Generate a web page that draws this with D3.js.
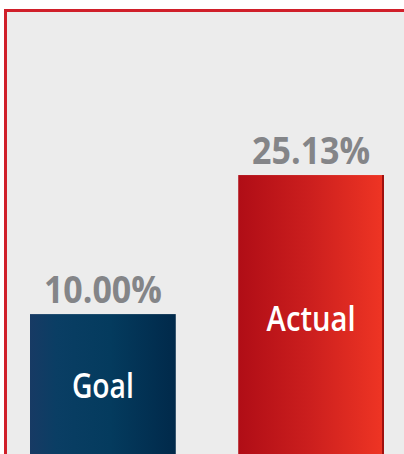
<!DOCTYPE html>
<html>
<head>
<meta charset="utf-8">
<script src="https://cdn.jsdelivr.net/npm/d3@7"></script>
<style>
  html, body { margin: 0; padding: 0; background: #ffffff; }
  svg { display: block; }
</style>
</head>
<body>
<svg id="chart"></svg>
<script>
// Chart data
const categories = ['Goal', 'Actual'];
const values = [10.00, 25.13];
const valueLabels = ['10.00%', '25.13%'];

// Dimensions
const width = 404;
const height = 454;

const svg = d3.select('#chart')
    .attr('width', width)
    .attr('height', height);

// Gradients for the two bars
const defs = svg.append('defs');

const goalGrad = defs.append('linearGradient').attr('id', 'grad-goal');
goalGrad.append('stop').attr('offset', '0%').attr('stop-color', '#173a64');
goalGrad.append('stop').attr('offset', '18%').attr('stop-color', '#0a3e64');
goalGrad.append('stop').attr('offset', '55%').attr('stop-color', '#043b5e');
goalGrad.append('stop').attr('offset', '100%').attr('stop-color', '#01294a');

const actualGrad = defs.append('linearGradient').attr('id', 'grad-actual');
actualGrad.append('stop').attr('offset', '0%').attr('stop-color', '#b00d16');
actualGrad.append('stop').attr('offset', '50%').attr('stop-color', '#cc1f1e');
actualGrad.append('stop').attr('offset', '100%').attr('stop-color', '#ef3524');

const fills = ['url(#grad-goal)', 'url(#grad-actual)'];

// Panel background and red frame (runs off the right and bottom edges)
svg.append('rect')
    .attr('x', 5.5)
    .attr('y', 10.5)
    .attr('width', width + 20)
    .attr('height', height + 20)
    .attr('fill', '#ececec')
    .attr('stroke', '#d01f2a')
    .attr('stroke-width', 3);

// Scales
const xScale = d3.scaleBand()
    .domain(categories)
    .range([30, 384])
    .paddingInner(0.3)
    .paddingOuter(0);

const yScale = d3.scaleLinear()
    .domain([0, 30])
    .range([406, 130.3]);

const g = svg.append('g');

// Bars (extend to the bottom of the picture)
g.selectAll('.bar')
    .data(values)
    .enter()
    .append('rect')
    .attr('class', 'bar')
    .attr('x', (d, i) => xScale(categories[i]))
    .attr('y', d => yScale(d))
    .attr('width', xScale.bandwidth())
    .attr('height', d => height - yScale(d))
    .attr('fill', (d, i) => fills[i]);

// Dark right edge on the Actual bar
g.append('rect')
    .attr('x', xScale('Actual') + xScale.bandwidth() - 2)
    .attr('y', yScale(values[1]))
    .attr('width', 2)
    .attr('height', height - yScale(values[1]))
    .attr('fill', '#a0100f');

// Value labels above bars
g.selectAll('.value-label')
    .data(values)
    .enter()
    .append('text')
    .attr('class', 'value-label')
    .attr('x', (d, i) => xScale(categories[i]) + xScale.bandwidth() / 2)
    .attr('y', d => yScale(d) - 11)
    .attr('text-anchor', 'middle')
    .attr('font-family', '"Open Sans", sans-serif')
    .attr('font-weight', 700)
    .attr('font-size', 37)
    .attr('fill', '#848588')
    .attr('textLength', 118)
    .attr('lengthAdjust', 'spacingAndGlyphs')
    .text((d, i) => valueLabels[i]);

// Category labels inside bars
g.selectAll('.cat-label')
    .data(values)
    .enter()
    .append('text')
    .attr('class', 'cat-label')
    .attr('x', (d, i) => xScale(categories[i]) + xScale.bandwidth() / 2)
    .attr('y', d => yScale(d) + (height - yScale(d)) * 0.52 + 11)
    .attr('text-anchor', 'middle')
    .attr('font-family', '"Open Sans", sans-serif')
    .attr('font-weight', 600)
    .attr('font-size', 35)
    .attr('fill', '#ffffff')
    .attr('textLength', (d, i) => i === 0 ? 62 : 89)
    .attr('lengthAdjust', 'spacingAndGlyphs')
    .text((d, i) => categories[i]);
</script>
</body>
</html>
